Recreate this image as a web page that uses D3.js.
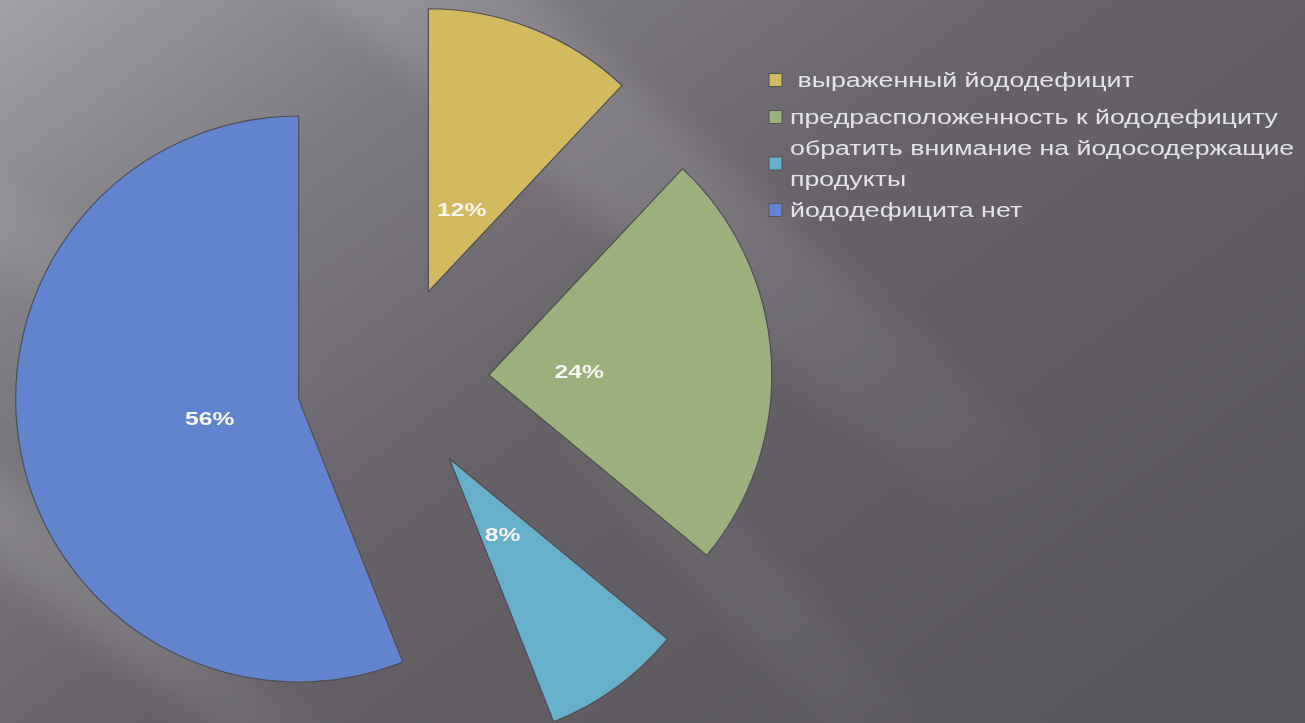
<!DOCTYPE html>
<html>
<head>
<meta charset="utf-8">
<script src="https://cdn.jsdelivr.net/npm/d3@7"></script>
<style>
  html, body { margin: 0; padding: 0; background: #5f5b61; overflow: hidden; }
</style>
</head>
<body>
<div id="chart"></div>
<script>
// categories of the pie (legend order = slice order, clockwise from 12 o'clock)
const categories = [
  " выраженный йододефицит",
  "предрасположенность к йододефициту",
  "обратить внимание на йодосодержащие продукты",
  "йододефицита нет"
];
// percentage of each category
const values = [12, 24, 8, 56];
// slice colours
const colors = ["#d3ba5e", "#9bb07c", "#66b0cb", "#6284cf"];
// legend text, wrapped the way the original wraps it
const legend_lines = [
  [" выраженный йододефицит"],
  ["предрасположенность к йододефициту"],
  ["обратить внимание на йодосодержащие", "продукты"],
  ["йододефицита нет"]
];

const width = 1305;
const height = 723;

// pie geometry
const cx = 393, cy = 381;
const radius = 283;
const explode = 96;

const svg = d3.select("#chart")
  .append("svg")
  .attr("width", width)
  .attr("height", height);

// -------------------------< background >--------------------------
const defs = svg.append("defs");

const bg = defs.append("linearGradient")
  .attr("id", "bg")
  .attr("x1", 0).attr("y1", 0)
  .attr("x2", 1).attr("y2", 0.75);
bg.append("stop").attr("offset", "0%").attr("stop-color", "#a29fa6");
bg.append("stop").attr("offset", "25%").attr("stop-color", "#7d7a80");
bg.append("stop").attr("offset", "55%").attr("stop-color", "#656167");
bg.append("stop").attr("offset", "100%").attr("stop-color", "#5a575d");

// streaks fade out towards their lower-right end
const fade = defs.append("linearGradient")
  .attr("id", "fade")
  .attr("x1", 0).attr("y1", 0)
  .attr("x2", 1).attr("y2", 1);
fade.append("stop").attr("offset", "0%").attr("stop-color", "#fff").attr("stop-opacity", 1);
fade.append("stop").attr("offset", "55%").attr("stop-color", "#fff").attr("stop-opacity", 0.8);
fade.append("stop").attr("offset", "100%").attr("stop-color", "#fff").attr("stop-opacity", 0);

defs.append("filter")
  .attr("id", "blur")
  .attr("x", "-20%").attr("y", "-20%")
  .attr("width", "140%").attr("height", "140%")
  .append("feGaussianBlur")
  .attr("stdDeviation", 16);

svg.append("rect")
  .attr("width", width)
  .attr("height", height)
  .attr("fill", "url(#bg)");

// diagonal light streaks
const streaks = [
  { pts: [[250, -60], [470, -60], [1100, 500], [960, 510]], o: 0.13 },
  { pts: [[-60, 430], [-60, 520], [280, 780], [390, 780]], o: 0.14 },
  { pts: [[-60, 150], [-60, 240], [300, 430], [330, 380]], o: 0.07 },
  { pts: [[560, 430], [650, 430], [980, 780], [870, 780]], o: 0.06 }
];
svg.append("g")
  .attr("filter", "url(#blur)")
  .selectAll("polygon")
  .data(streaks)
  .join("polygon")
  .attr("points", d => d.pts.map(p => p.join(",")).join(" "))
  .attr("fill", "url(#fade)")
  .attr("opacity", d => d.o);

// -------------------------< pie >--------------------------
const pie = d3.pie().sort(null).value(d => d);
const arcs = pie(values);

const arc = d3.arc().innerRadius(0).outerRadius(radius);
const label_arc = d3.arc().innerRadius(0).outerRadius(radius * 0.64);

// shift each slice out along its bisector
function offset(d) {
  const mid = (d.startAngle + d.endAngle) / 2;
  return [cx + explode * Math.sin(mid), cy - explode * Math.cos(mid)];
}

const slices = svg.append("g")
  .selectAll("g")
  .data(arcs)
  .join("g")
  .attr("transform", d => `translate(${offset(d)})`);

slices.append("path")
  .attr("d", arc)
  .attr("fill", (d, i) => colors[i])
  .attr("stroke", "#4f4d55")
  .attr("stroke-width", 1.2)
  .attr("stroke-linejoin", "round");

slices.append("text")
  .attr("transform", d => {
    const c = label_arc.centroid(d);
    return `translate(${c[0]},${c[1] + 2}) scale(1.3,1)`;
  })
  .attr("text-anchor", "middle")
  .attr("dy", "0.35em")
  .attr("font-family", "Liberation Sans, Arial, sans-serif")
  .attr("font-weight", "bold")
  .attr("font-size", 19)
  .attr("fill", "#f6f6f2")
  .text(d => d.data + "%");

// -------------------------< legend >--------------------------
const legend_x = 769;
const legend_text_x = 790;
const legend_target_w = 488; // width of the longest legend line
const line_h = 31;
const row_y = [80, 117, 148, 210]; // first line centre of each item

const legend = svg.append("g")
  .attr("font-family", "Liberation Sans, Arial, sans-serif")
  .attr("font-size", 21)
  .attr("fill", "#e4e3e6");

// measure once to get the horizontal stretch of the original
const probe = legend.append("text").text(legend_lines[1][0]);
const sx = legend_target_w / probe.node().getComputedTextLength();
probe.remove();

legend_lines.forEach((lines, i) => {
  const item = legend.append("g");
  const block_mid = row_y[i] + (lines.length - 1) * line_h / 2;
  item.append("rect")
    .attr("x", legend_x)
    .attr("y", block_mid - 6.5)
    .attr("width", 13)
    .attr("height", 13)
    .attr("fill", colors[i])
    .attr("stroke", "#55535a")
    .attr("stroke-width", 1);
  lines.forEach((ln, j) => {
    item.append("text")
      .attr("transform", `translate(${legend_text_x},${row_y[i] + j * line_h}) scale(${sx},1)`)
      .attr("dy", "0.35em")
      .attr("xml:space", "preserve")
      .style("white-space", "pre")
      .text(ln);
  });
});
</script>
</body>
</html>
